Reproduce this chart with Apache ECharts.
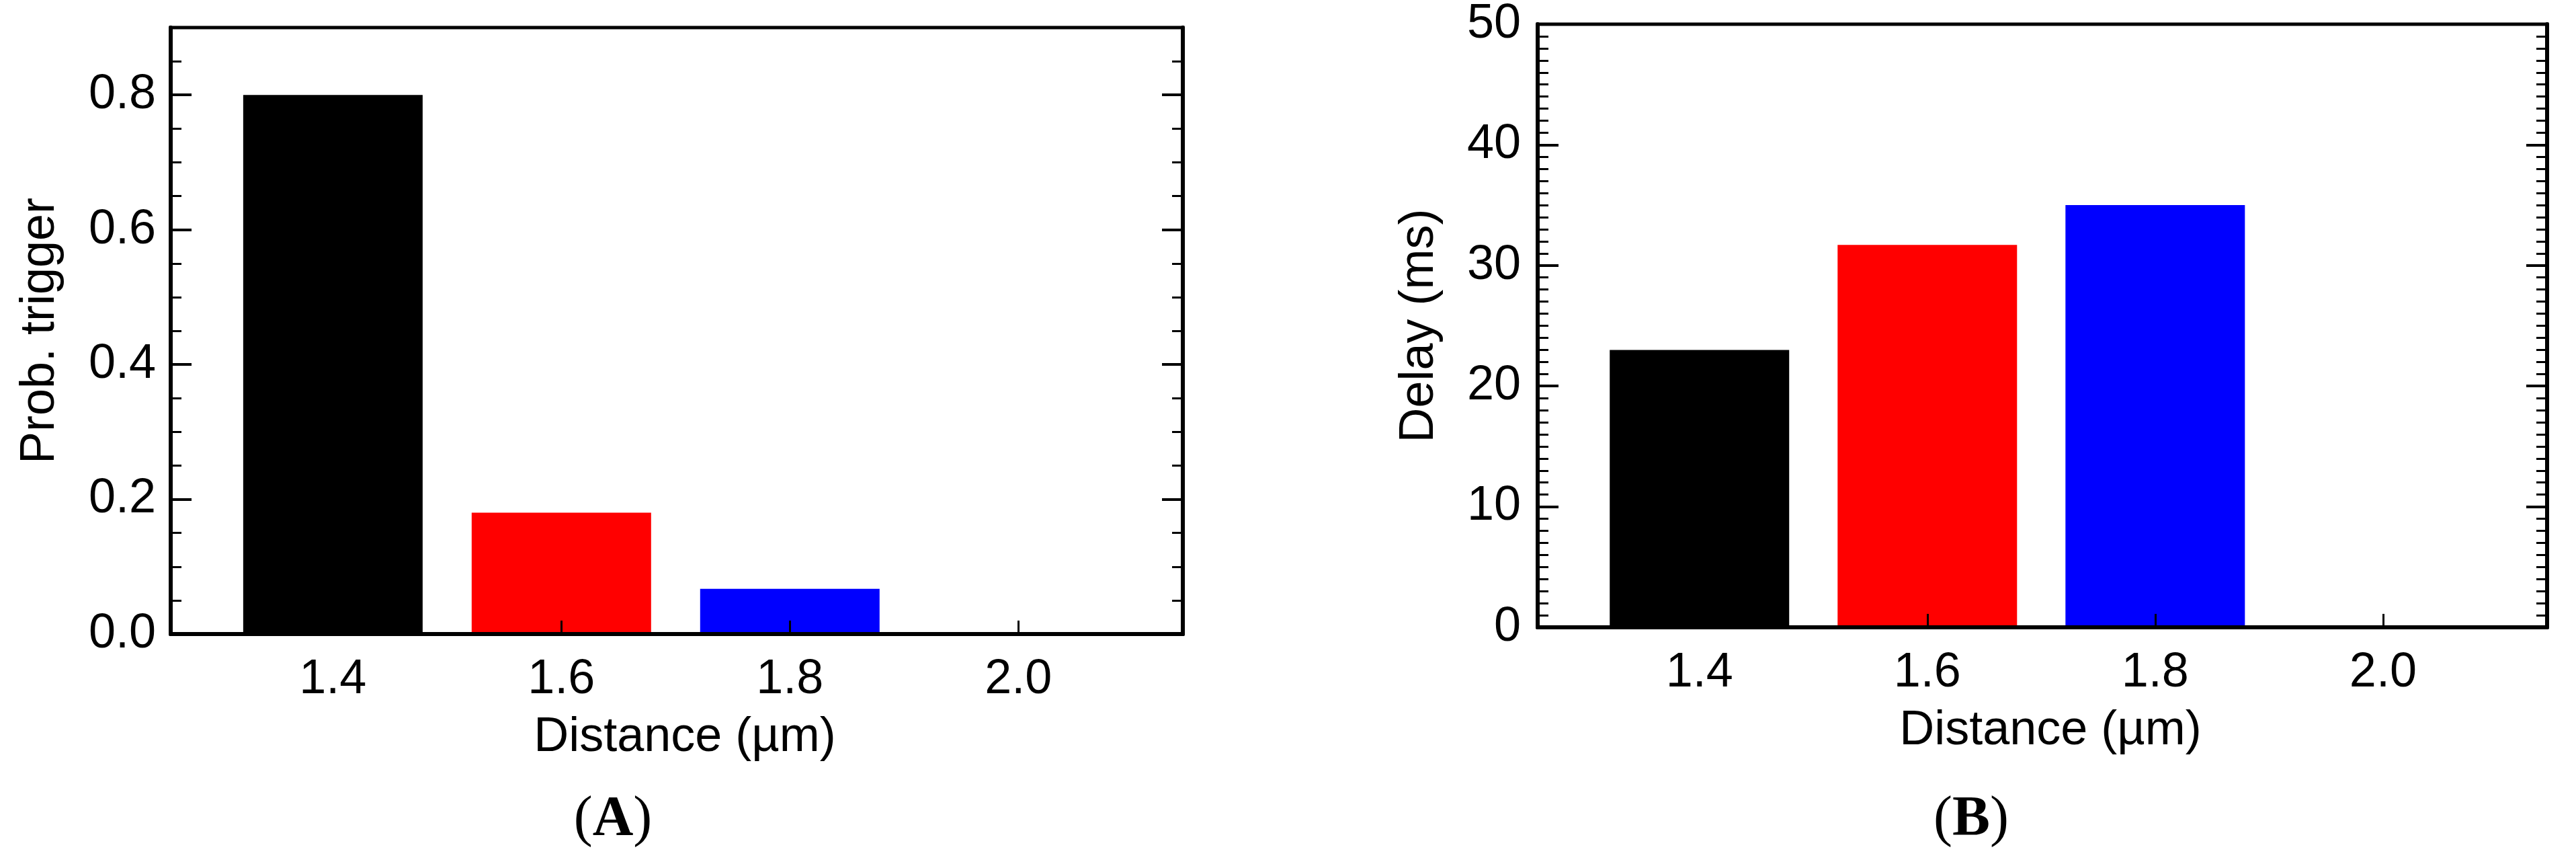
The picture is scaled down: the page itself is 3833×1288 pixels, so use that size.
<!DOCTYPE html>
<html><head><meta charset="utf-8">
<script src="https://cdn.jsdelivr.net/npm/echarts@6/dist/echarts.min.js"></script>
<style>html,body{margin:0;padding:0;background:#fff}#c{width:3833px;height:1288px}</style>
</head><body><div id="c"></div>
<script>
// ---- data ----
const distances = [1.4, 1.6, 1.8, 2.0];
const probTrigger = [0.80, 0.18, 0.067, 0];
const delayMs = [23.0, 31.7, 35.0, null];
const xTickLabels = [1.4, 1.6, 1.8, 2.0];
const yTicksA = [0.0, 0.2, 0.4, 0.6, 0.8];
const yTicksB = [0, 10, 20, 30, 40, 50];
const minorStepA = 0.05, maxA = 0.9;
const minorStepB = 1, maxB = 50;
const barColors = ['#000000', '#ff0000', '#0000ff', '#00a000'];

const FONT = '"Liberation Sans", Arial, sans-serif';
const SERIF = '"Liberation Serif", "Times New Roman", serif';

function minorValues(step, max) {
  const out = [];
  for (let i = 0; i * step <= max + 1e-9; i++) out.push(+(i * step).toFixed(6));
  return out;
}

function xAxisCfg(gridIndex) {
  return {
    type: 'value', gridIndex, min: 1.258, max: 2.144, position: 'bottom', z: 5,
    axisLine: { show: true, lineStyle: { color: '#000', width: 6 } },
    axisTick: { show: true, inside: true, length: 20, customValues: xTickLabels, lineStyle: { color: '#000', width: 3 } },
    axisLabel: { show: true, customValues: xTickLabels, formatter: v => v.toFixed(1), margin: 32,
      fontSize: 72, fontFamily: FONT, color: '#000' },
    splitLine: { show: false },
    name: 'Distance (µm)', nameLocation: 'middle', nameGap: 118,
    nameTextStyle: { fontSize: 72, fontFamily: FONT, color: '#000', padding: [0, 0, 0, 24] }
  };
}

function yAxesCfg(gridIndex, max, majors, minors, fmt, name, nameGap, labelMargin) {
  const axes = [];
  ['left', 'right'].forEach(pos => {
    const isLeft = pos === 'left';
    axes.push({
      type: 'value', gridIndex, min: 0, max, position: pos, z: 5,
      axisLine: { show: true, lineStyle: { color: '#000', width: 6 } },
      axisTick: { show: true, inside: true, length: 16, customValues: minors, lineStyle: { color: '#000', width: 3 } },
      axisLabel: { show: isLeft, customValues: majors, formatter: fmt, margin: labelMargin,
        fontSize: 72, fontFamily: FONT, color: '#000' },
      splitLine: { show: false },
      name: isLeft ? name : '', nameLocation: 'middle', nameGap, nameRotate: 90,
      nameTextStyle: { fontSize: 72, fontFamily: FONT, color: '#000' }
    });
    axes.push({
      type: 'value', gridIndex, min: 0, max, position: pos, z: 5,
      axisLine: { show: false },
      axisTick: { show: true, inside: true, length: 31, customValues: majors, lineStyle: { color: '#000', width: 4 } },
      axisLabel: { show: false },
      splitLine: { show: false }
    });
  });
  return axes;
}

const seriesA = distances.map((d, i) => ({ value: [d, probTrigger[i]], itemStyle: { color: barColors[i] } }));
const seriesB = distances.map((d, i) => ({ value: [d, delayMs[i]], itemStyle: { color: barColors[i] } }));

const option = {
  animation: false,
  backgroundColor: '#ffffff',
  grid: [
    { left: 254, right: 3833 - 1760, top: 41, bottom: 1288 - 943, show: true, borderColor: '#000', borderWidth: 5 },
    { left: 2288, right: 3833 - 3790, top: 34, bottom: 1288 - 933, show: true, borderColor: '#000', borderWidth: 5 }
  ],
  xAxis: [xAxisCfg(0), xAxisCfg(1)],
  yAxis: [
    ...yAxesCfg(0, maxA, yTicksA, minorValues(minorStepA, maxA), v => v.toFixed(1), 'Prob. trigger', 158, 22),
    ...yAxesCfg(1, maxB, yTicksB, minorValues(minorStepB, maxB), v => String(v), 'Delay (ms)', 140, 25)
  ],
  series: [
    { type: 'bar', xAxisIndex: 0, yAxisIndex: 0, barWidth: 267, data: seriesA },
    { type: 'bar', xAxisIndex: 1, yAxisIndex: 4, barWidth: 267, data: seriesB }
  ],
  graphic: [
    { type: 'text', x: 912, y: 1178, style: { text: '{p|(}{b|A}{p|)}', textAlign: 'center', textVerticalAlign: 'top',
      rich: { p: { font: '84px ' + SERIF, fill: '#000' }, b: { font: 'bold 84px ' + SERIF, fill: '#000' } } } },
    { type: 'text', x: 2933, y: 1178, style: { text: '{p|(}{b|B}{p|)}', textAlign: 'center', textVerticalAlign: 'top',
      rich: { p: { font: '84px ' + SERIF, fill: '#000' }, b: { font: 'bold 84px ' + SERIF, fill: '#000' } } } }
  ]
};

const chart = echarts.init(document.getElementById('c'), null, { renderer: 'canvas' });
chart.setOption(option);
</script>
</body></html>
